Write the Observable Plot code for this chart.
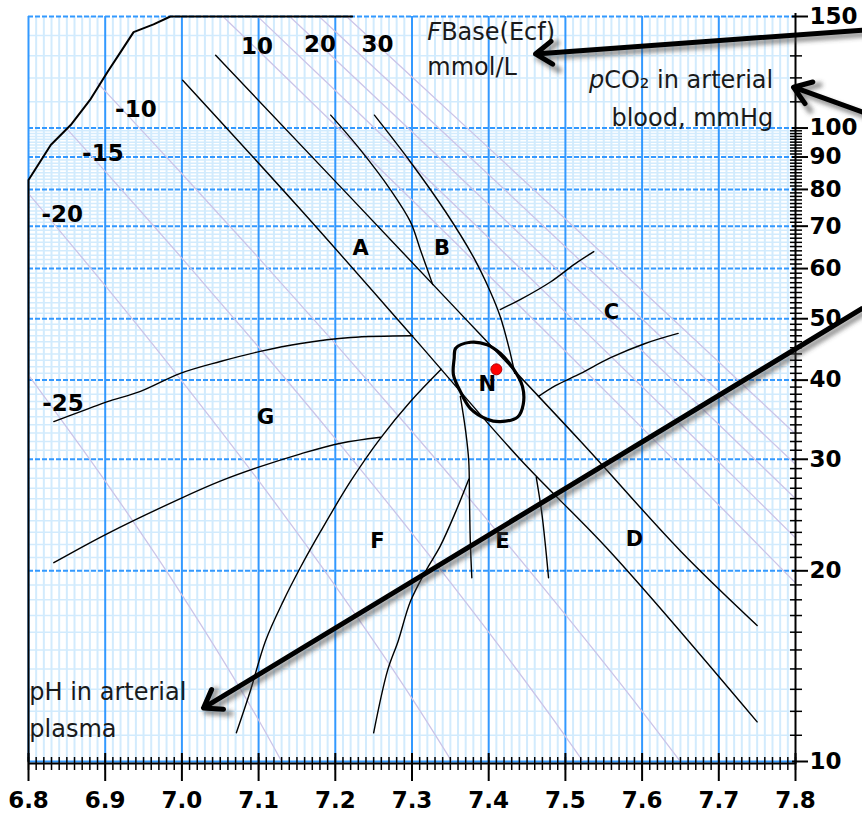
<!DOCTYPE html>
<html><head><meta charset="utf-8">
<script src="https://cdn.jsdelivr.net/npm/d3@7"></script>
<script src="https://cdn.jsdelivr.net/npm/@observablehq/plot@0.6"></script>
<style>body{margin:0;background:#fff}</style>
</head><body><div id="chart"></div>
<script>
// ---------- tick labels ----------
const phLabels = ["6.8","6.9","7.0","7.1","7.2","7.3","7.4","7.5","7.6","7.7","7.8"];
const co2Labels = [10,20,30,40,50,60,70,80,90,100,150];
const majorPH = [6.8,6.9,7.0,7.1,7.2,7.3,7.4,7.5,7.6,7.7];
const majorCO2 = [20,30,40,50,60,70,80,90,100,150];

// ---------- base excess isolines [pH, pCO2] ----------
const beM25 = [[6.8,40.75],[6.9,27.72],[7.0,18.33],[7.1,11.63],[7.2,6.91]];
const beM20 = [[6.8,78.77],[6.9,56.38],[7.0,39.86],[7.1,27.75],[7.2,18.94],[7.3,12.58],[7.4,8.03]];
const beM15 = [[6.85,99.7],[6.9,85.44],[7.0,62.33],[7.1,45.11],[7.2,32.34],[7.3,22.92],[7.4,16.00],[7.5,10.96],[7.6,7.31]];
const beM10 = [[6.89,117.8],[6.9,114.35],[7.0,84.68],[7.1,62.38],[7.2,45.67],[7.3,33.19],[7.4,23.92],[7.5,17.05],[7.6,12.00],[7.7,8.30]];
const beP10 = [[7.0,173.25],[7.1,132.41],[7.2,101.04],[7.3,76.97],[7.4,58.52],[7.5,44.42],[7.6,33.63],[7.7,25.41],[7.8,19.14]];
const beP15 = [[7.0,194.8],[7.1,149.51],[7.2,114.62],[7.3,87.76],[7.4,67.10],[7.5,51.22],[7.6,39.04],[7.7,29.70],[7.8,22.55]];
const beP20 = [[7.1,166.77],[7.2,128.34],[7.3,98.65],[7.4,75.75],[7.5,58.10],[7.6,44.50],[7.7,34.04],[7.8,26.00]];
const beP25 = [[7.1,184.04],[7.2,142.05],[7.3,109.54],[7.4,84.40],[7.5,64.97],[7.6,49.96],[7.7,38.37],[7.8,29.44]];
const beP30 = [[7.1,201.3],[7.2,155.76],[7.3,120.43],[7.4,93.05],[7.5,71.84],[7.6,55.42],[7.7,42.71],[7.8,32.88]];
const beLabels = [
  {t:"10", ph:7.098, p:134.2}, {t:"20", ph:7.180, p:135.4}, {t:"30", ph:7.255, p:135.6},
  {t:"-10", ph:6.940, p:106.8}, {t:"-15", ph:6.897, p:91.0}, {t:"-20", ph:6.844, p:72.9}, {t:"-25", ph:6.845, p:36.7}
];

// ---------- region boundaries [pH, pCO2] ----------
const chartBoundary = [[6.8,10],[6.8,82.8],[6.829,94.0],[6.855,101.1],[6.881,111.1],[6.903,122.6],[6.920,131.8],[6.937,141.7],[6.963,145.8],[6.985,150],[7.222,150]];
const acuteLow = [[7.001,119.0],[7.155,74.3],[7.301,46.85],[7.441,30.0],[7.559,21.4],[7.750,11.55]];
const acuteHigh = [[7.044,130.3],[7.346,53.6],[7.520,32.0],[7.650,21.5],[7.750,16.4]];
const bLeft = [[7.194,104.8],[7.233,92.3],[7.272,79.9],[7.298,71.1],[7.311,64.2],[7.327,56.6]];
const bRight = [[7.251,104.8],[7.298,88.4],[7.344,73.7],[7.380,62.6],[7.402,55.2],[7.415,50.4],[7.426,45.2],[7.434,41.0]];
const cUpper = [[7.415,51.7],[7.441,53.6],[7.481,57.2],[7.513,61.1],[7.537,63.8]];
const cLower = [[7.465,37.7],[7.487,39.2],[7.520,41.0],[7.559,43.4],[7.604,45.7],[7.647,47.4]];
const eLeft = [[7.363,37.7],[7.370,33.2],[7.374,29.8],[7.375,25.7],[7.376,22.3],[7.378,19.5]];
const eRight = [[7.462,28.1],[7.469,24.8],[7.474,21.9],[7.478,19.5]];
const fOuter = [[7.338,41.6],[7.298,37.0],[7.259,32.4],[7.220,27.7],[7.181,23.1],[7.155,20.3],[7.132,17.9],[7.109,15.5],[7.089,12.9],[7.071,11.1]];
const fInner = [[7.374,27.9],[7.357,24.8],[7.337,21.9],[7.318,20.0],[7.298,17.9],[7.282,15.5],[7.268,13.9],[7.250,11.1]];
const gUpper = [[6.833,34.4],[6.874,35.9],[6.903,37.0],[6.946,38.4],[6.998,41.0],[7.050,42.8],[7.102,44.4],[7.155,45.7],[7.220,46.7],[7.301,47.0]];
const gLower = [[6.833,20.6],[6.903,22.9],[6.998,26.0],[7.050,27.7],[7.102,29.2],[7.155,30.6],[7.207,31.8],[7.259,32.5]];
const normalN = [[7.357,44.9],[7.376,45.9],[7.398,45.5],[7.415,44.1],[7.432,41.7],[7.444,39.1],[7.445,36.6],[7.438,35.0],[7.415,34.4],[7.398,34.7],[7.376,36.1],[7.363,38.4],[7.354,40.8],[7.355,43.3]];
const patientPoint = [[7.41,41.6]];
const regionLabels = [
  {t:"A", ph:7.233, p:64.7}, {t:"B", ph:7.339, p:64.7}, {t:"C", ph:7.560, p:51.1},
  {t:"D", ph:7.590, p:22.4}, {t:"E", ph:7.418, p:22.3}, {t:"F", ph:7.255, p:22.3},
  {t:"G", ph:7.109, p:34.9}, {t:"N", ph:7.398, p:39.4}
];

// ---------- annotations ----------
const noteTexts = [
  {t:"FBase(Ecf)", ph:7.320, p:141.8, anchor:"start"},
  {t:"mmol/L", ph:7.320, p:124.8, anchor:"start"},
  {t:"pCO₂ in arterial", ph:7.771, p:119.0, anchor:"end"},
  {t:"blood, mmHg", ph:7.771, p:103.6, anchor:"end"},
  {t:"pH in arterial", ph:6.801, p:12.85, anchor:"start"},
  {t:"plasma", ph:6.801, p:11.25, anchor:"start"}
];
const noteArrows = [
  {x1:7.887, y1:142.7, x2:7.461, y2:130.9},
  {x1:7.887, y1:106.0, x2:7.7974, y2:116.0},
  {x1:7.887, y1:51.9, x2:7.0282, y2:12.15}
];

// ---------- build tables ----------
const beLines = [["-25",beM25],["-20",beM20],["-15",beM15],["-10",beM10],["10",beP10],["15",beP15],["20",beP20],["25",beP25],["30",beP30]];
const beRows = beLines.flatMap(([be, pts]) => pts.map(([ph, p]) => ({be, ph, p})));
const minorPH = d3.range(681, 780).filter(v => v % 10 !== 0).map(v => v / 100);
const allPHTicks = d3.range(680, 781).map(v => v / 100);
const minorCO2 = d3.range(11, 100).filter(v => v % 10 !== 0).concat([110,120,130,140]);
const axisCO2Ticks = d3.range(11, 100).filter(v => v % 10 !== 0).concat([110,120,130,140]);

const LIGHT = "#d2ebfd", BLUE = "#3399ff", LAV = "#cbc4e8";
const FONT = "DejaVu Sans, Verdana, sans-serif";
const curveLine = (data, extra={}) => Plot.line(data, {x: d => d[0], y: d => d[1], stroke: "black", strokeWidth: 1.4, curve: "catmull-rom", ...extra});

const root = Plot.plot({
  width: 862, height: 813,
  marginLeft: 28, marginRight: 67, marginTop: 16, marginBottom: 52,
  x: {domain: [6.8, 7.8], axis: null},
  y: {type: "log", domain: [10, 150], axis: null},
  style: {fontFamily: FONT, background: "white", overflow: "visible"},
  marks: [
    Plot.ruleX(minorPH, {x: d => d, stroke: LIGHT, strokeWidth: 2}),
    Plot.ruleY(minorCO2, {y: d => d, stroke: LIGHT, strokeWidth: 1.5}),
    Plot.ruleX(majorPH, {x: d => d, stroke: BLUE, strokeWidth: 2}),
    Plot.ruleY(majorCO2, {y: d => d, stroke: BLUE, strokeWidth: 2, strokeDasharray: "5,2"}),
    Plot.ruleY([10], {y: d => d, stroke: BLUE, strokeWidth: 2}),
    Plot.line(beRows, {x: "ph", y: "p", z: "be", stroke: LAV, strokeWidth: 1.3, curve: "catmull-rom", clip: true}),
    curveLine(chartBoundary, {curve: "linear", strokeWidth: 2}),
    curveLine(acuteLow), curveLine(acuteHigh), curveLine(bLeft), curveLine(bRight),
    curveLine(cUpper), curveLine(cLower), curveLine(eLeft), curveLine(eRight),
    curveLine(fOuter), curveLine(fInner), curveLine(gUpper), curveLine(gLower),
    curveLine(normalN, {curve: "catmull-rom-closed", strokeWidth: 3.2}),
    // axes
    Plot.ruleY([10], {y: d => d, x1: 6.8, x2: 7.8, dy: 2, stroke: "black", strokeWidth: 2}),
    Plot.ruleX([7.8], {x: d => d, y1: 150, y2: 10, insetTop: -3, insetBottom: -3, stroke: "black", strokeWidth: 2}),
    Plot.ruleX(allPHTicks, {x: d => d, y1: 10, y2: 10, insetTop: -4, insetBottom: -9, stroke: "black", strokeWidth: 1.5}),
    Plot.ruleX(phLabels, {x: d => +d, y1: 10, y2: 10, insetTop: -8, insetBottom: -20, stroke: "black", strokeWidth: 2}),
    Plot.ruleY(axisCO2Ticks, {y: d => d, x1: 7.8, x2: 7.8, insetLeft: -5, insetRight: -7, stroke: "black", strokeWidth: 1.5}),
    Plot.ruleY(co2Labels, {y: d => d, x1: 7.8, x2: 7.8, insetLeft: -3, insetRight: -13, stroke: "black", strokeWidth: 2}),
    Plot.text(phLabels, {x: d => +d, y: 10, text: d => d, dy: 39, fontSize: 23, fontWeight: "bold", fill: "black", fontFamily: FONT}),
    Plot.text(co2Labels, {x: 7.8, y: d => d, text: d => String(d), dx: 14, textAnchor: "start", fontSize: 23, fontWeight: "bold", fill: "black", fontFamily: FONT}),
    // labels
    Plot.text(beLabels, {x: "ph", y: "p", text: "t", fontSize: 23, fontWeight: "bold", fill: "black", fontFamily: FONT}),
    Plot.text(regionLabels, {x: "ph", y: "p", text: "t", fontSize: 21, fontWeight: "bold", fill: "black", fontFamily: FONT}),
    Plot.dot(patientPoint, {x: d => d[0], y: d => d[1], r: 5.5, fill: "#ff0000", stroke: "#b00000", strokeWidth: 1}),
    Plot.text(noteTexts.filter(d => d.anchor === "start"), {x: "ph", y: "p", text: "t", textAnchor: "start", fontSize: 24, fill: "#1a1a1a", fontFamily: FONT}),
    Plot.text(noteTexts.filter(d => d.anchor === "end"), {x: "ph", y: "p", text: "t", textAnchor: "end", fontSize: 24, fill: "#1a1a1a", fontFamily: FONT}),
    Plot.arrow(noteArrows, {x1: "x1", y1: "y1", x2: "x2", y2: "y2", stroke: "#444", strokeOpacity: 0.55, strokeWidth: 6, headLength: 6, headAngle: 70, dx: 3, dy: 4}),
    Plot.arrow(noteArrows, {x1: "x1", y1: "y1", x2: "x2", y2: "y2", stroke: "black", strokeWidth: 5, headLength: 6, headAngle: 70})
  ]
});
document.getElementById("chart").append(root);
const svg = root.tagName.toLowerCase() === "svg" ? root : root.querySelector("svg");
const NS = "http://www.w3.org/2000/svg";
const defs = document.createElementNS(NS, "defs");
const filt = document.createElementNS(NS, "filter");
filt.setAttribute("id", "arrowShadow");
filt.setAttribute("filterUnits", "userSpaceOnUse");
filt.setAttribute("x", "0"); filt.setAttribute("y", "0");
filt.setAttribute("width", "862"); filt.setAttribute("height", "813");
const blur = document.createElementNS(NS, "feGaussianBlur");
blur.setAttribute("stdDeviation", "2");
filt.append(blur); defs.append(filt); svg.prepend(defs);
const arrowGroups = svg.querySelectorAll('g[aria-label="arrow"]');
if (arrowGroups.length) arrowGroups[0].setAttribute("filter", "url(#arrowShadow)");
function italicLead(textEl, lead, rest) {
  textEl.textContent = "";
  const ts = document.createElementNS(NS, "tspan");
  ts.setAttribute("font-style", "italic");
  ts.textContent = lead;
  textEl.append(ts, document.createTextNode(rest));
}
for (const t of svg.querySelectorAll("text")) {
  if (t.textContent === "FBase(Ecf)") italicLead(t, "F", "Base(Ecf)");
  else if (t.textContent === "pCO₂ in arterial") italicLead(t, "p", "CO₂ in arterial");
}
</script></body></html>
